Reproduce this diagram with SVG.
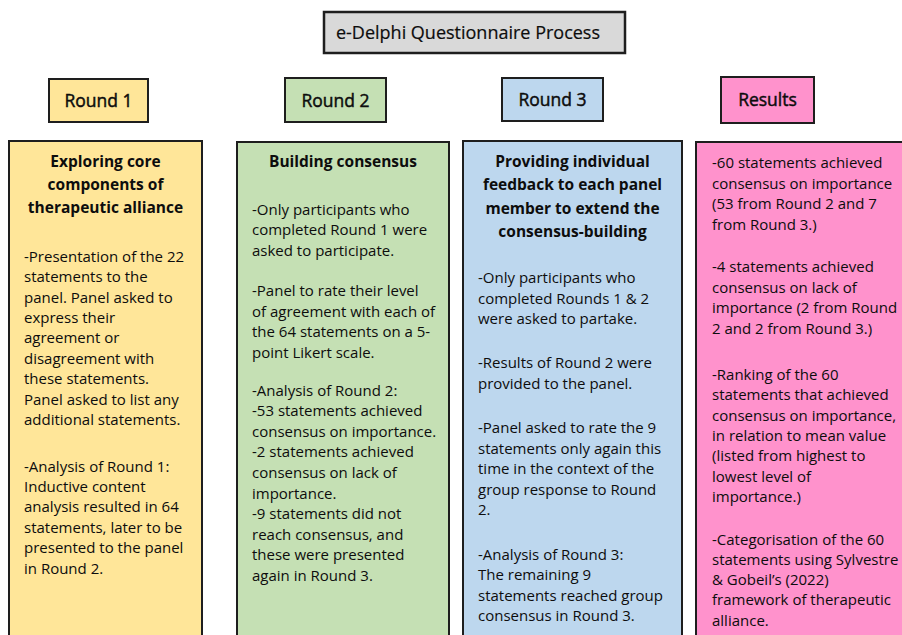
<svg xmlns="http://www.w3.org/2000/svg" width="902" height="635" viewBox="0 0 902 635">
  <style>
    .box { stroke: #1e1e1e; stroke-width: 2; }
    .title { fill: #d9d9d9; stroke: #1e1e1e; stroke-width: 2.5; }
    .yellow { fill: #ffe699; }
    .green { fill: #c5e0b4; }
    .blue { fill: #bdd7ee; }
    .pink { fill: #ff92cc; }
    text { font-family: "Open Sans", "Noto Sans", "Liberation Sans", sans-serif; fill: #0d0d0d; }
    .head { font-size: 17.5px; text-anchor: middle; stroke: #0d0d0d; stroke-width: 0.45px; }
    .big { font-size: 18px; text-anchor: middle; stroke: #0d0d0d; stroke-width: 0.2px; }
    .sub { font-size: 15.5px; font-weight: bold; text-anchor: middle; }
    .body { font-size: 15px; }
  </style>

  <rect width="902" height="635" fill="#ffffff"/>

  <!-- Heading -->
  <g id="heading">
    <rect class="title" x="324" y="12" width="301" height="41"/>
    <text class="big" x="468" y="39">e-Delphi Questionnaire Process</text>
  </g>

  <!-- Stage labels -->
  <g id="label-round1">
    <rect class="box yellow" x="49" y="79" width="99" height="43"/>
    <text class="head" x="98.5" y="107">Round 1</text>
  </g>
  <g id="label-round2">
    <rect class="box green" x="285" y="78" width="101" height="44"/>
    <text class="head" x="335.5" y="107">Round 2</text>
  </g>
  <g id="label-round3">
    <rect class="box blue" x="502" y="78" width="101" height="43"/>
    <text class="head" x="552.5" y="106">Round 3</text>
  </g>
  <g id="label-results">
    <rect class="box pink" x="721" y="77" width="93" height="46"/>
    <text class="head" x="767.5" y="106">Results</text>
  </g>

  <!-- Round 1 column -->
  <g id="round1">
    <rect class="box yellow" x="9" y="141" width="193" height="500"/>
    <text class="sub" x="105.5" y="167">Exploring core</text>
    <text class="sub" x="105.5" y="190">components of</text>
    <text class="sub" x="105.5" y="213">therapeutic alliance</text>
    <text class="body" x="24" y="261.7">-Presentation of the 22</text>
    <text class="body" x="24" y="282.1">statements to the</text>
    <text class="body" x="24" y="302.5">panel. Panel asked to</text>
    <text class="body" x="24" y="322.9">express their</text>
    <text class="body" x="24" y="343.3">agreement or</text>
    <text class="body" x="24" y="363.7">disagreement with</text>
    <text class="body" x="24" y="384.1">these statements.</text>
    <text class="body" x="24" y="404.5">Panel asked to list any</text>
    <text class="body" x="24" y="424.9">additional statements.</text>
    <text class="body" x="24" y="471.5">-Analysis of Round 1:</text>
    <text class="body" x="24" y="491.9">Inductive content</text>
    <text class="body" x="24" y="512.3">analysis resulted in 64</text>
    <text class="body" x="24" y="532.7">statements, later to be</text>
    <text class="body" x="24" y="553.1">presented to the panel</text>
    <text class="body" x="24" y="573.5">in Round 2.</text>
  </g>

  <!-- Round 2 column -->
  <g id="round2">
    <rect class="box green" x="237" y="142" width="212" height="500"/>
    <text class="sub" x="343" y="167">Building consensus</text>
    <text class="body" x="252" y="214.5">-Only participants who</text>
    <text class="body" x="252" y="235">completed Round 1 were</text>
    <text class="body" x="252" y="255.5">asked to participate.</text>
    <text class="body" x="252" y="296">-Panel to rate their level</text>
    <text class="body" x="252" y="316.6">of agreement with each of</text>
    <text class="body" x="252" y="337.2">the 64 statements on a 5-</text>
    <text class="body" x="252" y="357.8">point Likert scale.</text>
    <text class="body" x="252" y="395.5">-Analysis of Round 2:</text>
    <text class="body" x="252" y="416.1">-53 statements achieved</text>
    <text class="body" x="252" y="436.7">consensus on importance.</text>
    <text class="body" x="252" y="457.3">-2 statements achieved</text>
    <text class="body" x="252" y="477.9">consensus on lack of</text>
    <text class="body" x="252" y="498.5">importance.</text>
    <text class="body" x="252" y="519.1">-9 statements did not</text>
    <text class="body" x="252" y="539.7">reach consensus, and</text>
    <text class="body" x="252" y="560.3">these were presented</text>
    <text class="body" x="252" y="580.9">again in Round 3.</text>
  </g>

  <!-- Round 3 column -->
  <g id="round3">
    <rect class="box blue" x="463" y="141" width="219" height="500"/>
    <text class="sub" x="572.5" y="167">Providing individual</text>
    <text class="sub" x="572.5" y="190.3">feedback to each panel</text>
    <text class="sub" x="572.5" y="213.6">member to extend the</text>
    <text class="sub" x="572.5" y="237">consensus-building</text>
    <text class="body" x="478" y="283">-Only participants who</text>
    <text class="body" x="478" y="303.6">completed Rounds 1 &amp; 2</text>
    <text class="body" x="478" y="324.2">were asked to partake.</text>
    <text class="body" x="478" y="368">-Results of Round 2 were</text>
    <text class="body" x="478" y="388.6">provided to the panel.</text>
    <text class="body" x="478" y="433">-Panel asked to rate the 9</text>
    <text class="body" x="478" y="453.6">statements only again this</text>
    <text class="body" x="478" y="474.2">time in the context of the</text>
    <text class="body" x="478" y="494.8">group response to Round</text>
    <text class="body" x="478" y="515.4">2.</text>
    <text class="body" x="478" y="559.5">-Analysis of Round 3:</text>
    <text class="body" x="478" y="580.1">The remaining 9</text>
    <text class="body" x="478" y="600.7">statements reached group</text>
    <text class="body" x="478" y="621.3">consensus in Round 3.</text>
  </g>

  <!-- Results column -->
  <g id="results">
    <rect class="box pink" x="696" y="142" width="220" height="500"/>
    <text class="body" x="712" y="168">-60 statements achieved</text>
    <text class="body" x="712" y="188.5">consensus on importance</text>
    <text class="body" x="712" y="209">(53 from Round 2 and 7</text>
    <text class="body" x="712" y="229.5">from Round 3.)</text>
    <text class="body" x="712" y="272">-4 statements achieved</text>
    <text class="body" x="712" y="292.5">consensus on lack of</text>
    <text class="body" x="712" y="313">importance (2 from Round</text>
    <text class="body" x="712" y="333.5">2 and 2 from Round 3.)</text>
    <text class="body" x="712" y="380">-Ranking of the 60</text>
    <text class="body" x="712" y="400.3">statements that achieved</text>
    <text class="body" x="712" y="420.6">consensus on importance,</text>
    <text class="body" x="712" y="440.9">in relation to mean value</text>
    <text class="body" x="712" y="461.2">(listed from highest to</text>
    <text class="body" x="712" y="481.5">lowest level of</text>
    <text class="body" x="712" y="501.8">importance.)</text>
    <text class="body" x="712" y="544.5">-Categorisation of the 60</text>
    <text class="body" x="712" y="564.8">statements using Sylvestre</text>
    <text class="body" x="712" y="585.1">&amp; Gobeil’s (2022)</text>
    <text class="body" x="712" y="605.4">framework of therapeutic</text>
    <text class="body" x="712" y="625.7">alliance.</text>
  </g>

  <!-- No connectors are drawn between the columns -->
  <g id="connectors"/>
</svg>
